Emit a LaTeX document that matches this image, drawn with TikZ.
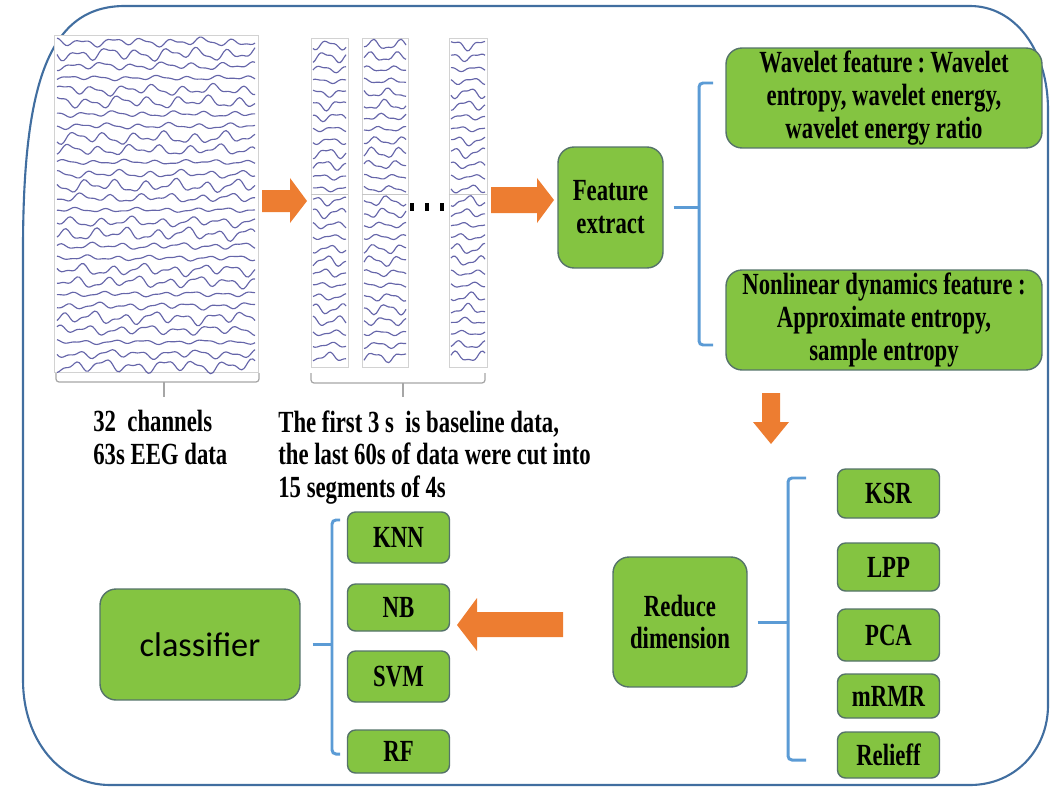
\documentclass[tikz,border=0pt]{standalone}
\usepackage{fontspec}
\newfontfamily\tnr{Liberation Serif}[FakeStretch=0.74]
\newfontfamily\calfont{Carlito}
\newcommand\lbl{\tnr\bfseries\fontsize{17.5}{18.7}\selectfont}
\definecolor{boxgreen}{RGB}{132,196,65}
\definecolor{boxline}{RGB}{85,115,105}
\definecolor{framecol}{RGB}{65,110,160}
\definecolor{brackblue}{RGB}{91,155,213}
\definecolor{arroworange}{RGB}{237,125,49}
\definecolor{tracecol}{RGB}{75,75,155}
\begin{document}
\begin{tikzpicture}[x=0.02cm,y=-0.02cm,
	gbox/.style={draw=boxline,fill=boxgreen,line width=0.8pt,rounded corners=0.32cm,align=center,inner sep=0pt,font=\lbl},
	sbox/.style={gbox,rounded corners=0.16cm,minimum width=2.04cm},
	panel/.style={draw=gray!35,fill=white,inner sep=0pt},
	bracket/.style={draw=brackblue,line width=1.7pt,rounded corners=0.08cm},
	underbr/.style={draw=gray!70,line width=0.7pt,rounded corners=0.06cm},
	trace/.style={draw=tracecol,line width=0.65pt,smooth,opacity=0.85},
	barrow/.style={fill=arroworange}]
	\useasboundingbox (0,0) rectangle (1050,787);
	% outer frame
	\draw[framecol,line width=1.2pt] (125,6) -- (970,6) .. controls (1015,6) and (1048,50) .. (1048,110) -- (1048,705) .. controls (1048,750) and (1015,785) .. (970,785) -- (110,785) .. controls (60,785) and (23,740) .. (23,680) -- (23,250) .. controls (23,80) and (50,6) .. (125,6);
	% EEG record and its 4 s segments
	\node[panel,minimum width=4.08cm,minimum height=6.74cm] (eeg) at (156,203.5) {};
	\node[panel,minimum width=0.74cm,minimum height=6.58cm] (seg1) at (329.5,202.5) {};
	\node[panel,minimum width=0.92cm,minimum height=6.58cm] (seg2) at (385,202.5) {};
	\node[panel,minimum width=0.76cm,minimum height=6.58cm] (seg3) at (468,202.5) {};
	\foreach \i in {0,...,27}
		\draw[trace] plot[domain=57:255,samples=90] (\x,{42+12*\i+(1+0.5*sin(97*\i))*(2.8*sin(12*\x+57*\i)+1.4*sin(23*\x+103*\i)+1.2*sin(5*\x+71*\i))});
	\foreach \a/\b/\k in {313/346/1,364/406/2,451/485/3}
		\foreach \i in {0,...,26}
			\draw[trace] plot[domain=\a:\b,samples=18] (\x,{45+12*\i+(1+0.4*sin(83*\i+29*\k))*(3*sin(13*(\x-\a)+41*\i+77*\k)+1.3*sin(27*(\x-\a)+89*\i))});
	\foreach \n in {seg1,seg2,seg3}
		\draw[gray!45] (\n.west |- 0,194) -- (\n.east |- 0,194);
	\foreach \x in {412,427,442}
		\fill (\x-1.6,203) rectangle (\x+1.6,211);
	\draw[underbr] (56,373) -- (56,382) -- (259,382) -- (259,373);
	\draw[underbr] (164,382) -- (164,397);
	\draw[underbr] (311,373) -- (311,383) -- (485,383) -- (485,373);
	\draw[underbr] (403,383) -- (403,397);
	\node[anchor=north west,inner sep=0pt,align=left,font=\lbl] (lab1) at (93,410) {32\ \ channels\\63s EEG data};
	\node[anchor=north west,inner sep=0pt,align=left,font=\lbl] (lab2) at (278,410) {The first 3 s\ \ is baseline data,\\the last 60s of data were cut into\\15 segments of 4s};
	% block arrows
	\fill[barrow] (262,190) -- (290,190) -- (290,178) -- (307,201) -- (290,223) -- (290,212) -- (262,212) -- cycle;
	\fill[barrow] (491,187) -- (537,187) -- (537,178) -- (554,200) -- (537,223) -- (537,213) -- (491,213) -- cycle;
	\fill[barrow] (762,393) -- (780,393) -- (780,422) -- (789,422) -- (771,444) -- (753,422) -- (762,422) -- cycle;
	\fill[barrow] (563,612) -- (477,612) -- (477,598) -- (457,625) -- (477,651) -- (477,637) -- (563,637) -- cycle;
	% feature extraction
	\node[gbox,minimum width=2.1cm,minimum height=2.42cm] (fe) at (610.5,207.5) {Feature\\extract};
	\node[gbox,minimum width=6.32cm,minimum height=2cm] (wf) at (884,98) {Wavelet feature\,:\,Wavelet\\entropy, wavelet energy,\\wavelet energy ratio};
	\node[gbox,minimum width=6.32cm,minimum height=2cm] (nf) at (884,320) {Nonlinear dynamics feature :\\Approximate entropy,\\sample entropy};
	\coordinate (fb) at (699,214);
	\draw[bracket] (713,83) -- (699,83) -- (699,345) -- (713,345);
	\draw[bracket,shorten <=0.2cm] (fe.east) -- (fe.east -| fb);
	% dimension reduction
	\node[gbox,minimum width=2.68cm,minimum height=2.6cm] (rd) at (680,622) {Reduce\\dimension};
	\node[sbox,minimum height=0.98cm] (ksr) at (888.5,493.5) {KSR};
	\node[sbox,minimum height=0.96cm] (lpp) at (888.5,567) {LPP};
	\node[sbox,minimum height=1.04cm] (pca) at (888.5,635) {PCA};
	\node[sbox,minimum height=0.88cm] (mrmr) at (888.5,696) {mRMR};
	\node[sbox,minimum height=0.92cm] (relf) at (888.5,755) {Relieff};
	\coordinate (rb) at (788,619);
	\draw[bracket] (806,478) -- (788,478) -- (788,760) -- (806,760);
	\draw[bracket,shorten <=0.2cm] (rd.east) -- (rd.east -| rb);
	% classification
	\node[gbox,minimum width=4cm,minimum height=2.22cm,font=\calfont\fontsize{19.5}{22}\selectfont] (cls) at (200,644.5) {classifier};
	\node[sbox,minimum height=1.02cm] (knn) at (398.5,537.5) {KNN};
	\node[sbox,minimum height=0.94cm] (nb) at (398.5,607.5) {NB};
	\node[sbox,minimum height=1.02cm] (svm) at (398.5,676.5) {SVM};
	\node[sbox,minimum height=0.86cm] (rf) at (398.5,751.5) {RF};
	\coordinate (cb) at (332,635);
	\draw[bracket] (340,520) -- (332,520) -- (332,754) -- (340,754);
	\draw[bracket,shorten <=0.24cm] (cls.east) -- (cls.east -| cb);
\end{tikzpicture}
\end{document}
